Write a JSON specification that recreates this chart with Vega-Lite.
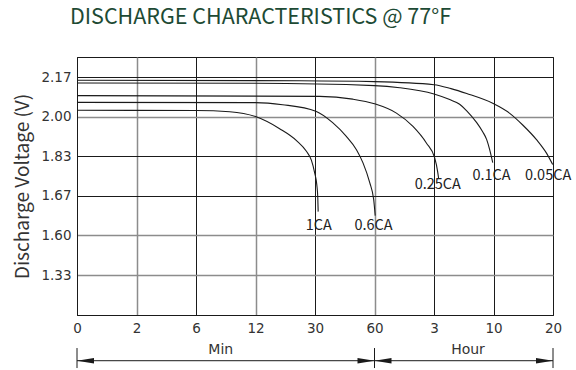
{
  "$schema": "https://vega.github.io/schema/vega-lite/v6.json",
  "autosize": "none",
  "width": 476,
  "height": 258,
  "padding": {"left": 77, "top": 57, "right": 23, "bottom": 55},
  "background": "white",
  "title": {
    "text": "DISCHARGE CHARACTERISTICS @ 77°F",
    "font": "Noto Sans CJK SC",
    "fontSize": 21.5,
    "fontWeight": "normal",
    "color": "#1d4a34",
    "anchor": "start",
    "frame": "group",
    "dx": -7,
    "offset": 29
  },
  "datasets": {
    "curves": [
      {"rate": "1CA", "t": 0, "v": 2.027}, {"rate": "1CA", "t": 6, "v": 2.026}, {"rate": "1CA", "t": 9.4, "v": 2.021}, {"rate": "1CA", "t": 12, "v": 2.0}, {"rate": "1CA", "t": 19.3, "v": 1.948}, {"rate": "1CA", "t": 24.4, "v": 1.897}, {"rate": "1CA", "t": 27.4, "v": 1.851}, {"rate": "1CA", "t": 28.9, "v": 1.814}, {"rate": "1CA", "t": 29.9, "v": 1.763}, {"rate": "1CA", "t": 30.9, "v": 1.715}, {"rate": "1CA", "t": 31.4, "v": 1.667}, {"rate": "1CA", "t": 31.6, "v": 1.642},
      {"rate": "0.6CA", "t": 0, "v": 2.061}, {"rate": "0.6CA", "t": 12, "v": 2.06}, {"rate": "0.6CA", "t": 20.2, "v": 2.051}, {"rate": "0.6CA", "t": 30.4, "v": 2.023}, {"rate": "0.6CA", "t": 38.9, "v": 1.974}, {"rate": "0.6CA", "t": 45.8, "v": 1.915}, {"rate": "0.6CA", "t": 50.9, "v": 1.858}, {"rate": "0.6CA", "t": 54.2, "v": 1.803}, {"rate": "0.6CA", "t": 57.6, "v": 1.723}, {"rate": "0.6CA", "t": 59.6, "v": 1.663}, {"rate": "0.6CA", "t": 61.4, "v": 1.635},
      {"rate": "0.25CA", "t": 0, "v": 2.09}, {"rate": "0.25CA", "t": 32.4, "v": 2.087}, {"rate": "0.25CA", "t": 49, "v": 2.075}, {"rate": "0.25CA", "t": 60, "v": 2.055}, {"rate": "0.25CA", "t": 104.2, "v": 2.015}, {"rate": "0.25CA", "t": 137.6, "v": 1.958}, {"rate": "0.25CA", "t": 164.6, "v": 1.887}, {"rate": "0.25CA", "t": 185, "v": 1.823}, {"rate": "0.25CA", "t": 206, "v": 1.767}, {"rate": "0.25CA", "t": 213, "v": 1.739},
      {"rate": "0.1CA", "t": 0, "v": 2.144}, {"rate": "0.1CA", "t": 12, "v": 2.143}, {"rate": "0.1CA", "t": 60, "v": 2.133}, {"rate": "0.1CA", "t": 110.9, "v": 2.124}, {"rate": "0.1CA", "t": 180, "v": 2.097}, {"rate": "0.1CA", "t": 290.9, "v": 2.073}, {"rate": "0.1CA", "t": 361, "v": 2.053}, {"rate": "0.1CA", "t": 411, "v": 2.025}, {"rate": "0.1CA", "t": 481.6, "v": 1.974}, {"rate": "0.1CA", "t": 523.6, "v": 1.935}, {"rate": "0.1CA", "t": 552, "v": 1.901}, {"rate": "0.1CA", "t": 573, "v": 1.858}, {"rate": "0.1CA", "t": 587, "v": 1.823}, {"rate": "0.1CA", "t": 594.5, "v": 1.804},
      {"rate": "0.05CA", "t": 0, "v": 2.156}, {"rate": "0.05CA", "t": 25.4, "v": 2.154}, {"rate": "0.05CA", "t": 60, "v": 2.15}, {"rate": "0.05CA", "t": 180, "v": 2.137}, {"rate": "0.05CA", "t": 300, "v": 2.12}, {"rate": "0.05CA", "t": 411, "v": 2.099}, {"rate": "0.05CA", "t": 594.5, "v": 2.057}, {"rate": "0.05CA", "t": 763.8, "v": 2.014}, {"rate": "0.05CA", "t": 894.6, "v": 1.964}, {"rate": "0.05CA", "t": 1035.6, "v": 1.9}, {"rate": "0.05CA", "t": 1136, "v": 1.842}, {"rate": "0.05CA", "t": 1197, "v": 1.796}
    ],
    "labels": [
      {"label": "1CA", "t": 31.9, "v": 1.617},
      {"label": "0.6CA", "t": 59.5, "v": 1.617},
      {"label": "0.25CA", "t": 207, "v": 1.715},
      {"label": "0.1CA", "t": 586.5, "v": 1.751},
      {"label": "0.05CA", "t": 1151, "v": 1.751}
    ],
    "heads": [
      {"t": 0, "v": 0.7515, "dir": "left"},
      {"t": 60, "v": 0.7515, "dir": "right"},
      {"t": 60, "v": 0.7515, "dir": "left"},
      {"t": 1200, "v": 0.7515, "dir": "right"}
    ],
    "ticks": [
      {"t": 0, "v1": 0.837, "v2": 0.702},
      {"t": 60, "v1": 0.837, "v2": 0.702},
      {"t": 1200, "v1": 0.837, "v2": 0.702}
    ],
    "span": [{"t1": 0, "t2": 1200, "v": 0.7515}],
    "units": [
      {"unit": "Min", "t": 8.5, "v": 0.823},
      {"unit": "Hour", "t": 420, "v": 0.823}
    ]
  },
  "layer": [
    {
      "data": {"name": "curves"},
      "mark": {"type": "line", "interpolate": "monotone", "color": "#1a1a1a", "strokeWidth": 1.1},
      "encoding": {
        "x": {
          "field": "t", "type": "quantitative",
          "scale": {"domain": [0, 2, 6, 12, 30, 60, 180, 600, 1200], "range": [0, 59.5, 119, 178.5, 238, 297.5, 357, 416.5, 476], "nice": false, "zero": false},
          "axis": {
            "values": [0, 2, 6, 12, 30, 60, 180, 600, 1200],
            "labelExpr": "datum.value >= 180 ? format(datum.value / 60, 'd') : format(datum.value, 'd')",
            "title": null,
            "grid": true,
            "gridColor": {"condition": {"test": "datum.value == 2 || datum.value == 12 || datum.value == 60", "value": "#8c8c8c"}, "value": "#1a1a1a"},
            "gridWidth": {"condition": {"test": "datum.value == 2 || datum.value == 12 || datum.value == 60", "value": 1.5}, "value": 1},
            "ticks": false,
            "labelFlush": false,
            "labelPadding": 6,
            "labelFont": "DejaVu Sans",
            "labelFontSize": 13.5,
            "labelColor": "#333333",
            "domainColor": "#1a1a1a"
          }
        },
        "y": {
          "field": "v", "type": "quantitative",
          "scale": {"domain": [1.06, 1.33, 1.6, 1.67, 1.83, 2.0, 2.17, 2.255], "range": [258, 218, 178.4, 138.8, 99.2, 59.6, 20, 0], "nice": false, "zero": false},
          "axis": {
            "values": [1.33, 1.6, 1.67, 1.83, 2.0, 2.17],
            "format": ".2f",
            "title": "Discharge Voltage (V)",
            "titleFont": "Noto Sans CJK SC",
            "titleFontSize": 19,
            "titleFontWeight": "normal",
            "titleColor": "#333333",
            "titlePadding": 8,
            "grid": true,
            "gridColor": {"condition": {"test": "datum.value == 2 || datum.value == 1.6 || datum.value == 1.33", "value": "#8c8c8c"}, "value": "#1a1a1a"},
            "gridWidth": {"condition": {"test": "datum.value == 2 || datum.value == 1.6 || datum.value == 1.33", "value": 1.6}, "value": 1},
            "ticks": false,
            "labelFlush": false,
            "labelPadding": 6,
            "labelFont": "DejaVu Sans",
            "labelFontSize": 13.5,
            "labelColor": "#333333",
            "domainColor": "#1a1a1a"
          }
        },
        "detail": {"field": "rate", "type": "nominal"}
      }
    },
    {
      "data": {"name": "labels"},
      "mark": {"type": "text", "font": "Noto Sans CJK SC", "fontSize": 14.5, "color": "#222222", "align": "center", "baseline": "middle"},
      "encoding": {
        "x": {"field": "t", "type": "quantitative"},
        "y": {"field": "v", "type": "quantitative"},
        "text": {"field": "label"}
      }
    },
    {
      "data": {"name": "span"},
      "mark": {"type": "rule", "color": "#1a1a1a", "strokeWidth": 1},
      "encoding": {
        "x": {"field": "t1", "type": "quantitative"},
        "x2": {"field": "t2"},
        "y": {"field": "v", "type": "quantitative"}
      }
    },
    {
      "data": {"name": "ticks"},
      "mark": {"type": "rule", "color": "#1a1a1a", "strokeWidth": 1},
      "encoding": {
        "x": {"field": "t", "type": "quantitative"},
        "y": {"field": "v1", "type": "quantitative"},
        "y2": {"field": "v2"}
      }
    },
    {
      "data": {"name": "heads"},
      "mark": {"type": "point", "filled": true, "color": "#1a1a1a", "opacity": 1, "size": 289, "strokeWidth": 0},
      "encoding": {
        "x": {"field": "t", "type": "quantitative"},
        "y": {"field": "v", "type": "quantitative"},
        "shape": {"field": "dir", "type": "nominal", "scale": {"domain": ["left", "right"], "range": ["M0,0L2,-0.32L2,0.32Z", "M0,0L-2,-0.32L-2,0.32Z"]}, "legend": null}
      }
    },
    {
      "data": {"name": "units"},
      "mark": {"type": "text", "font": "DejaVu Sans", "fontSize": 14, "color": "#333333", "align": "center", "baseline": "middle"},
      "encoding": {
        "x": {"field": "t", "type": "quantitative"},
        "y": {"field": "v", "type": "quantitative"},
        "text": {"field": "unit"}
      }
    }
  ],
  "config": {
    "view": {"stroke": "#1a1a1a", "strokeWidth": 1}
  }
}
